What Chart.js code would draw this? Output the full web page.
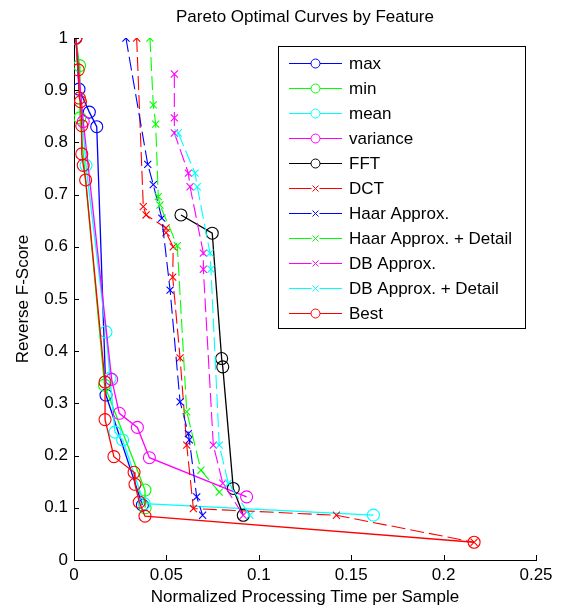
<!DOCTYPE html>
<html><head><meta charset="utf-8">
<script src="https://cdn.jsdelivr.net/npm/chart.js@4.4.1/dist/chart.umd.min.js"></script>
<style>html,body{margin:0;padding:0;background:#fff}#wrap{width:564px;height:608px;position:relative}</style>
</head><body><div id="wrap"><canvas id="c"></canvas></div>
<script>
// ---- data ----
const maxX = [0.001, 0.0027, 0.0083, 0.0123, 0.0173, 0.037];
const maxY = [1.0, 0.902, 0.858, 0.830, 0.316, 0.105];

const minX = [0.001, 0.0030, 0.0032, 0.0165, 0.0384, 0.0385];
const minY = [1.0, 0.947, 0.847, 0.335, 0.134, 0.100];

const meanX = [0.001, 0.0065, 0.0173, 0.0195, 0.0222, 0.0263, 0.038, 0.162];
const meanY = [1.0, 0.756, 0.437, 0.348, 0.245, 0.230, 0.108, 0.086];

const varianceX = [0.001, 0.005, 0.0204, 0.0245, 0.0343, 0.0408, 0.0934];
const varianceY = [1.0, 0.840, 0.346, 0.281, 0.254, 0.196, 0.121];

const fftX = [0.0579, 0.0748, 0.0799, 0.0805, 0.0862, 0.0916];
const fftY = [0.661, 0.626, 0.386, 0.370, 0.137, 0.0857];

const dctX = [0.0339, 0.0375, 0.039, 0.0498, 0.0498, 0.0537, 0.0534, 0.0574, 0.061, 0.0646, 0.142, 0.2165];
const dctY = [1.0, 0.677, 0.661, 0.636, 0.627, 0.600, 0.542, 0.387, 0.220, 0.0986, 0.0857, 0.034];

const haarX = [0.0281, 0.0399, 0.0429, 0.0475, 0.052, 0.0574, 0.0619, 0.0624, 0.0664, 0.0696];
const haarY = [1.0, 0.758, 0.719, 0.655, 0.517, 0.303, 0.242, 0.230, 0.121, 0.0857];

const haarDetX = [0.0411, 0.0429, 0.0442, 0.0456, 0.0465, 0.0559, 0.061, 0.0687, 0.0786];
const haarDetY = [1.0, 0.872, 0.835, 0.696, 0.680, 0.602, 0.284, 0.172, 0.130];

const dbX = [0.0543, 0.0543, 0.0543, 0.0619, 0.0628, 0.070, 0.070, 0.0754, 0.0805, 0.0916];
const dbY = [0.931, 0.847, 0.818, 0.741, 0.715, 0.588, 0.557, 0.220, 0.147, 0.0857];

const dbDetX = [0.0564, 0.0655, 0.0667, 0.0736, 0.0741, 0.0786, 0.0835, 0.0952];
const dbDetY = [0.818, 0.741, 0.715, 0.588, 0.557, 0.220, 0.147, 0.0857];

const bestX = [0.001, 0.0023, 0.0029, 0.0035, 0.0042, 0.0042, 0.005, 0.0063, 0.0168, 0.0168, 0.0216, 0.0325, 0.033, 0.0353, 0.0384, 0.2165];
const bestY = [1.0, 0.939, 0.885, 0.878, 0.832, 0.778, 0.756, 0.728, 0.341, 0.269, 0.198, 0.168, 0.145, 0.111, 0.084, 0.034];

const seriesNames = ['max','min','mean','variance','FFT','DCT','Haar Approx.','Haar Approx. + Detail','DB Approx.','DB Approx. + Detail','Best'];
const xTickValues = [0, 0.05, 0.1, 0.15, 0.2, 0.25];
const xTickLabels = ['0','0.05','0.1','0.15','0.2','0.25'];
const yTickValues = [0,0.1,0.2,0.3,0.4,0.5,0.6,0.7,0.8,0.9,1];
const yTickLabels = ['0','0.1','0.2','0.3','0.4','0.5','0.6','0.7','0.8','0.9','1'];

// ---- styles ----
const xs = [maxX,minX,meanX,varianceX,fftX,dctX,haarX,haarDetX,dbX,dbDetX,bestX];
const ys = [maxY,minY,meanY,varianceY,fftY,dctY,haarY,haarDetY,dbY,dbDetY,bestY];
const colors = ['#0000ff','#00ff00','#00ffff','#ff00ff','#000000','#ff0000','#0000ff','#00ff00','#ff00ff','#00ffff','#ff0000'];
const markers = ['circle','circle','circle','circle','circle','crossRot','crossRot','crossRot','crossRot','crossRot','circle'];
const FONT = "'Liberation Sans', Arial, sans-serif";
const FS = 17;

const datasets = seriesNames.map((name, i) => ({
  label: name,
  data: xs[i].map((x, j) => ({x: x, y: ys[i][j]})),
  showLine: true,
  borderColor: colors[i],
  borderWidth: markers[i] === 'circle' ? 1.3 : 1.1,
  borderDash: markers[i] === 'circle' ? [] : [14, 5],
  pointStyle: markers[i],
  pointRadius: markers[i] === 'circle' ? 6 : 5,
  pointBorderWidth: 1.1,
  pointBorderColor: colors[i],
  pointBackgroundColor: 'rgba(0,0,0,0)',
  order: 10 - i
}));

const inwardTicks = {
  id: 'inwardTicks',
  afterDraw(chart) {
    const ctx = chart.ctx, a = chart.chartArea;
    const sx = chart.scales.x, sy = chart.scales.y;
    ctx.save();
    ctx.strokeStyle = '#000'; ctx.lineWidth = 1;
    ctx.beginPath();
    xTickValues.forEach(v => {
      const p = Math.round(sx.getPixelForValue(v)) + 0.5;
      ctx.moveTo(p, a.bottom); ctx.lineTo(p, a.bottom - 5);
    });
    yTickValues.forEach(v => {
      const p = Math.round(sy.getPixelForValue(v)) + 0.5;
      ctx.moveTo(a.left, p); ctx.lineTo(a.left + 5, p);
    });
    ctx.stroke();
    ctx.restore();
  }
};

const boxLegend = {
  id: 'boxLegend',
  afterDraw(chart) {
    const ctx = chart.ctx;
    const L = 278, T = 46, R = 525, B = 328;
    ctx.save();
    ctx.fillStyle = '#fff';
    ctx.fillRect(L, T, R - L, B - T);
    ctx.strokeStyle = '#000'; ctx.lineWidth = 1;
    ctx.strokeRect(L + 0.5, T + 0.5, R - L, B - T);
    ctx.font = FS + 'px ' + FONT;
    ctx.textBaseline = 'middle';
    ctx.textAlign = 'left';
    chart.data.datasets.forEach((ds, i) => {
      const y = Math.round(63 + 25 * i) + 0.5;
      ctx.strokeStyle = ds.borderColor;
      ctx.lineWidth = 1;
      ctx.setLineDash([]);
      ctx.beginPath(); ctx.moveTo(289, y); ctx.lineTo(342, y); ctx.stroke();
      const cx = 315.5;
      if (ds.pointStyle === 'circle') {
        ctx.fillStyle = '#fff';
        ctx.beginPath(); ctx.arc(cx, y, 4.5, 0, Math.PI * 2); ctx.fill(); ctx.stroke();
      } else {
        ctx.fillStyle = '#fff';
        ctx.fillRect(cx - 4, y - 4, 8, 8);
        ctx.beginPath();
        ctx.moveTo(cx - 3, y - 3); ctx.lineTo(cx + 3, y + 3);
        ctx.moveTo(cx + 3, y - 3); ctx.lineTo(cx - 3, y + 3);
        ctx.stroke();
      }
      ctx.fillStyle = '#000';
      ctx.fillText(ds.label, 349, y + 1);
    });
    ctx.restore();
  }
};

new Chart(document.getElementById('c'), {
  type: 'scatter',
  data: { datasets },
  options: {
    responsive: true,
    maintainAspectRatio: false,
    animation: false,
    layout: { padding: { left: 0, right: 28, top: 0, bottom: 0 } },
    plugins: {
      legend: { display: false },
      tooltip: { enabled: false },
      title: {
        display: true,
        text: 'Pareto Optimal Curves by Feature',
        fullSize: false,
        color: '#000',
        font: { family: FONT, size: FS, weight: 'normal', lineHeight: 1.2 },
        padding: { top: 7, bottom: 10.6 }
      }
    },
    scales: {
      x: {
        type: 'linear', min: 0, max: 0.25,
        afterBuildTicks: s => { s.ticks = xTickValues.map(v => ({value: v})); },
        afterFit: s => { s.height = 48; },
        grid: { display: false, drawTicks: false },
        border: { display: true, color: '#000', width: 1 },
        ticks: {
          color: '#000', padding: 5, maxRotation: 0, autoSkip: false,
          font: { family: FONT, size: FS },
          callback: (v, i) => xTickLabels[i]
        },
        title: {
          display: true, text: 'Normalized Processing Time per Sample', color: '#000',
          font: { family: FONT, size: FS }, padding: { top: 0, bottom: 0 }
        }
      },
      y: {
        type: 'linear', min: 0, max: 1,
        afterBuildTicks: s => { s.ticks = yTickValues.map(v => ({value: v})); },
        afterFit: s => { s.width = 74; },
        grid: { display: false, drawTicks: false },
        border: { display: true, color: '#000', width: 1 },
        ticks: {
          color: '#000', padding: 6, autoSkip: false,
          font: { family: FONT, size: FS },
          callback: (v, i) => yTickLabels[i]
        },
        title: {
          display: true, text: 'Reverse F-Score', color: '#000',
          font: { family: FONT, size: FS }, padding: { top: 13, bottom: 0 }
        }
      }
    }
  },
  plugins: [inwardTicks, boxLegend]
});
</script>
</body></html>
